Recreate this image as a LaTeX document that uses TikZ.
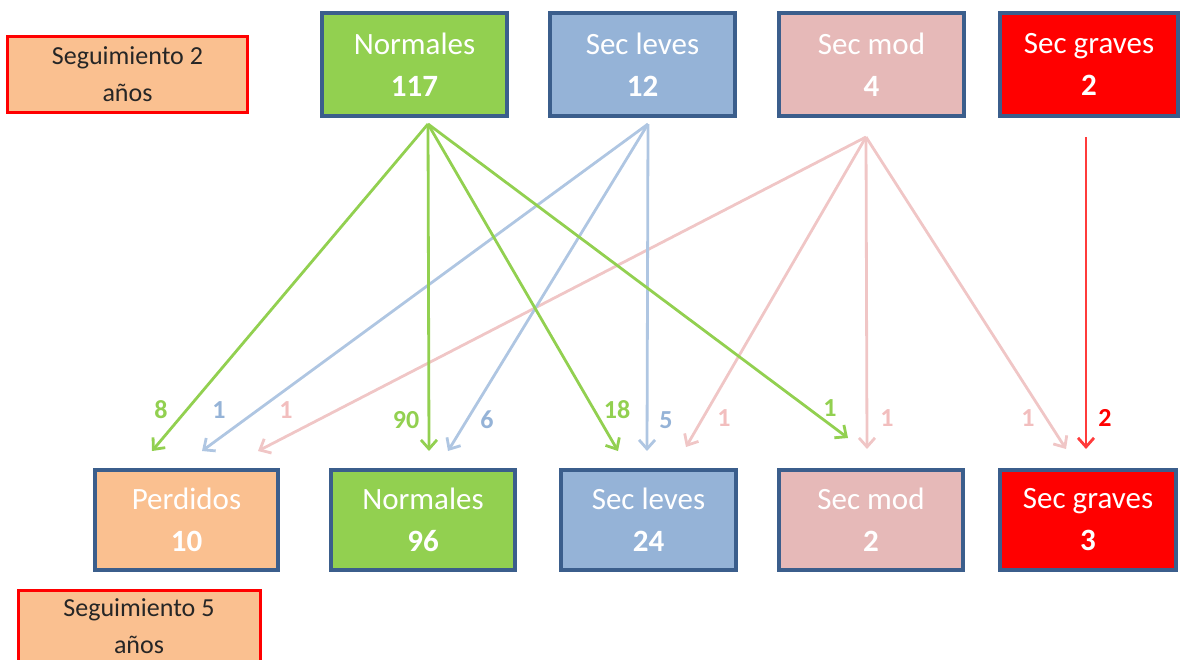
\documentclass[tikz,border=0pt]{standalone}
\usepackage{fontspec}
\setmainfont{Carlito}
\usetikzlibrary{arrows.meta}
\definecolor{cgreen}{HTML}{92D050}
\definecolor{cblue}{HTML}{95B3D7}
\definecolor{cpink}{HTML}{E6B9B8}
\definecolor{cred}{HTML}{FF0000}
\definecolor{cpeach}{HTML}{FAC090}
\definecolor{cedge}{HTML}{3B5E8C}
\definecolor{ablue}{HTML}{AFC6E2}
\definecolor{apink}{HTML}{F0C6C6}
\definecolor{lpink}{HTML}{F2BEBE}
\definecolor{ared}{HTML}{FF3B3B}
\tikzset{
  catbox/.style={draw=cedge, line width=3.5pt, inner sep=0pt, align=center,
    text=white, font=\fontsize{31}{42}\selectfont},
  notebox/.style={draw=cred, line width=3pt, fill=cpeach, inner sep=0pt,
    align=center, text=black!85, font=\fontsize{26}{37}\selectfont},
  flow/.style={line width=2.8pt, -{Straight Barb[length=9pt,width=16pt,line width=2.8pt]}},
  count/.style={font=\fontsize{26}{26}\selectfont\bfseries, inner sep=0pt}
}
\begin{document}
\begin{tikzpicture}[x=1pt, y=-1pt]
\useasboundingbox (0,0) rectangle (1180,659);
\clip (0,0) rectangle (1180,659);

% follow-up labels
\node[notebox, minimum width=240pt, minimum height=76pt] (seg2) at (127.5,74) {Seguimiento 2\\años};
\node[notebox, minimum width=242pt, minimum height=82pt] (seg5) at (139,631) {};
\node[notebox, draw=none, fill=none] (seg5t) at (139,626) {Seguimiento 5\\años};

% categories at 2 years
\node[catbox, fill=cgreen, minimum width=185pt, minimum height=103pt] (n2) at (414.5,64.5) {Normales\\\textbf{117}};
\node[catbox, fill=cblue,  minimum width=185pt, minimum height=103pt] (l2) at (642.5,64.5) {Sec leves\\\textbf{12}};
\node[catbox, fill=cpink,  minimum width=185pt, minimum height=103pt] (m2) at (871.5,64.5) {Sec mod\\\textbf{4}};
\node[catbox, fill=cred,   minimum width=178pt, minimum height=103pt] (g2) at (1089,64.5) {Sec graves\\\textbf{2}};

% categories at 5 years
\node[catbox, fill=cpeach, minimum width=183pt, minimum height=100pt] (p5) at (186.5,520) {Perdidos\\\textbf{10}};
\node[catbox, fill=cgreen, minimum width=184pt, minimum height=100pt] (n5) at (423,520) {Normales\\\textbf{96}};
\node[catbox, fill=cblue,  minimum width=175pt, minimum height=100pt] (l5) at (648.5,520) {Sec leves\\\textbf{24}};
\node[catbox, fill=cpink,  minimum width=184pt, minimum height=100pt] (m5) at (871,520) {Sec mod\\\textbf{2}};
\node[catbox, fill=cred,   minimum width=176pt, minimum height=100pt] (g5) at (1088,520) {Sec graves\\\textbf{3}};

% arrow origins below the 2-year boxes
\coordinate (sn) at (428,124);
\coordinate (sl) at (648,124);
\coordinate (sm) at (866,137);
\coordinate (sg) at (1086,137);

% arrow ends above the 5-year boxes
\coordinate (tnp) at (152,451);
\coordinate (tlp) at (202,451);
\coordinate (tmp) at (258,451);
\coordinate (tnn) at (429,451);
\coordinate (tln) at (448,451);
\coordinate (tnl) at (618,451);
\coordinate (tll) at (647,451);
\coordinate (tml) at (686,447);
\coordinate (tnm) at (848,438);
\coordinate (tmm) at (867,449);
\coordinate (tmg) at (1066,449);
\coordinate (tgg) at (1086,449);

% transitions
\draw[flow, draw=apink] (sm) -- (tmp);
\draw[flow, draw=apink] (sm) -- (tml);
\draw[flow, draw=apink] (sm) -- (tmm);
\draw[flow, draw=apink] (sm) -- (tmg);
\draw[flow, draw=ablue] (sl) -- (tlp);
\draw[flow, draw=ablue] (sl) -- (tln);
\draw[flow, draw=ablue] (sl) -- (tll);
\draw[flow, draw=cgreen] (sn) -- (tnp);
\draw[flow, draw=cgreen] (sn) -- (tnn);
\draw[flow, draw=cgreen] (sn) -- (tnl);
\draw[flow, draw=cgreen] (sn) -- (tnm);
\draw[flow, draw=ared] (sg) -- (tgg);

% counts
\node[count, text=cgreen] (c1) at (161,410) {8};
\node[count, text=cblue]  (c2) at (219,410) {1};
\node[count, text=lpink]  (c3) at (286,410) {1};
\node[count, text=cgreen] (c4) at (406,420) {90};
\node[count, text=cblue]  (c5) at (487,420) {6};
\node[count, text=cgreen] (c6) at (617,410) {18};
\node[count, text=cblue]  (c7) at (666,420) {5};
\node[count, text=lpink]  (c8) at (724,418) {1};
\node[count, text=cgreen] (c9) at (830,408) {1};
\node[count, text=lpink]  (c10) at (887,418) {1};
\node[count, text=lpink]  (c11) at (1028,418) {1};
\node[count, text=cred]   (c12) at (1105,418) {2};
\end{tikzpicture}
\end{document}
